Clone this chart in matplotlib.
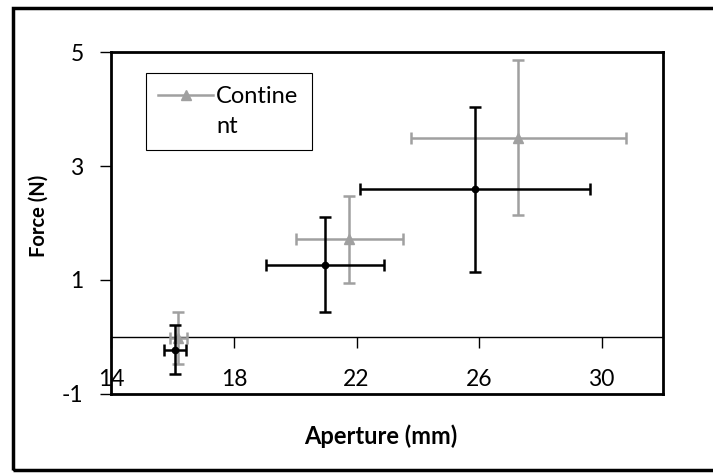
import matplotlib
matplotlib.use("Agg")
import matplotlib.pyplot as plt
from matplotlib.lines import Line2D
from matplotlib.patches import Rectangle

plt.rcParams['font.family'] = ['Lato', 'DejaVu Sans']
plt.rcParams['axes.unicode_minus'] = False

# data
black_x = [16.07, 20.97, 25.86]
black_y = [-0.23, 1.27, 2.59]
black_xerr = [0.35, 1.92, 3.75]
black_yerr = [0.43, 0.84, 1.45]

gray_x = [16.19, 21.76, 27.28]
gray_y = [-0.02, 1.71, 3.50]
gray_xerr = [0.27, 1.75, 3.50]
gray_yerr = [0.45, 0.76, 1.36]

x_ticks = [14, 18, 22, 26, 30]
y_ticks = [-1, 1, 3, 5]

GRAY = "#a0a0a0"

fig = plt.figure(figsize=(7.13, 4.73), dpi=100)
ax = fig.add_axes([0.1562, 0.1677, 0.7736, 0.7218])

ax.errorbar(gray_x, gray_y, xerr=gray_xerr, yerr=gray_yerr, fmt='^',
            color=GRAY, ms=7, elinewidth=1.8, capsize=4.5, capthick=1.8, zorder=2)
ax.errorbar(black_x, black_y, xerr=black_xerr, yerr=black_yerr, fmt='o',
            color='black', ms=4.5, elinewidth=1.8, capsize=4.5, capthick=1.8, zorder=3)

ax.set_xlim(14, 32)
ax.set_ylim(-1, 5)
ax.set_yticks(y_ticks)
ax.tick_params(axis='y', direction='out', length=8, width=1, labelsize=16.5, pad=12)
ax.tick_params(axis='x', bottom=False, labelbottom=False)
for s in ax.spines.values():
    s.set_linewidth(2)

# x axis crossing at y = 0
sec = ax.secondary_xaxis(0, transform=ax.transData)
sec.set_xticks(x_ticks)
sec.tick_params(direction='out', length=8, width=1, labelsize=16.5, pad=15)
sec.spines['bottom'].set_linewidth(1)

# legend
h1 = Line2D([], [], color=GRAY, lw=1.8, marker='^', ms=7)
h2 = Line2D([], [], color='none', lw=0)
leg = ax.legend([h1, h2], ['Contine', 'nt'], loc='upper left',
                bbox_to_anchor=(145.5 / 713, 1 - 73.3 / 473), bbox_transform=fig.transFigure,
                fontsize=17, frameon=True, fancybox=False, edgecolor='black', framealpha=1,
                borderpad=0.55, handlelength=2.3, handletextpad=0.15, labelspacing=0.35,
                borderaxespad=0)
leg.get_frame().set_linewidth(0.8)

fig.text(38.6 / 713, 1 - 216 / 473, "Force (N)", rotation=90, ha='center', va='center',
         fontsize=14.5, fontweight='bold')
fig.text(381 / 713, 1 - 436 / 473, "Aperture (mm)", ha='center', va='center',
         fontsize=17, fontweight='bold')

# outer chart border (right edge falls outside the image)
fig.patches.append(Rectangle((12.5 / 713, 1 - 470 / 473), 1.05, (470 - 8) / 473,
                             transform=fig.transFigure, fill=False, edgecolor='black',
                             linewidth=2.5, clip_on=False))

fig.savefig("out.png", dpi=100)
